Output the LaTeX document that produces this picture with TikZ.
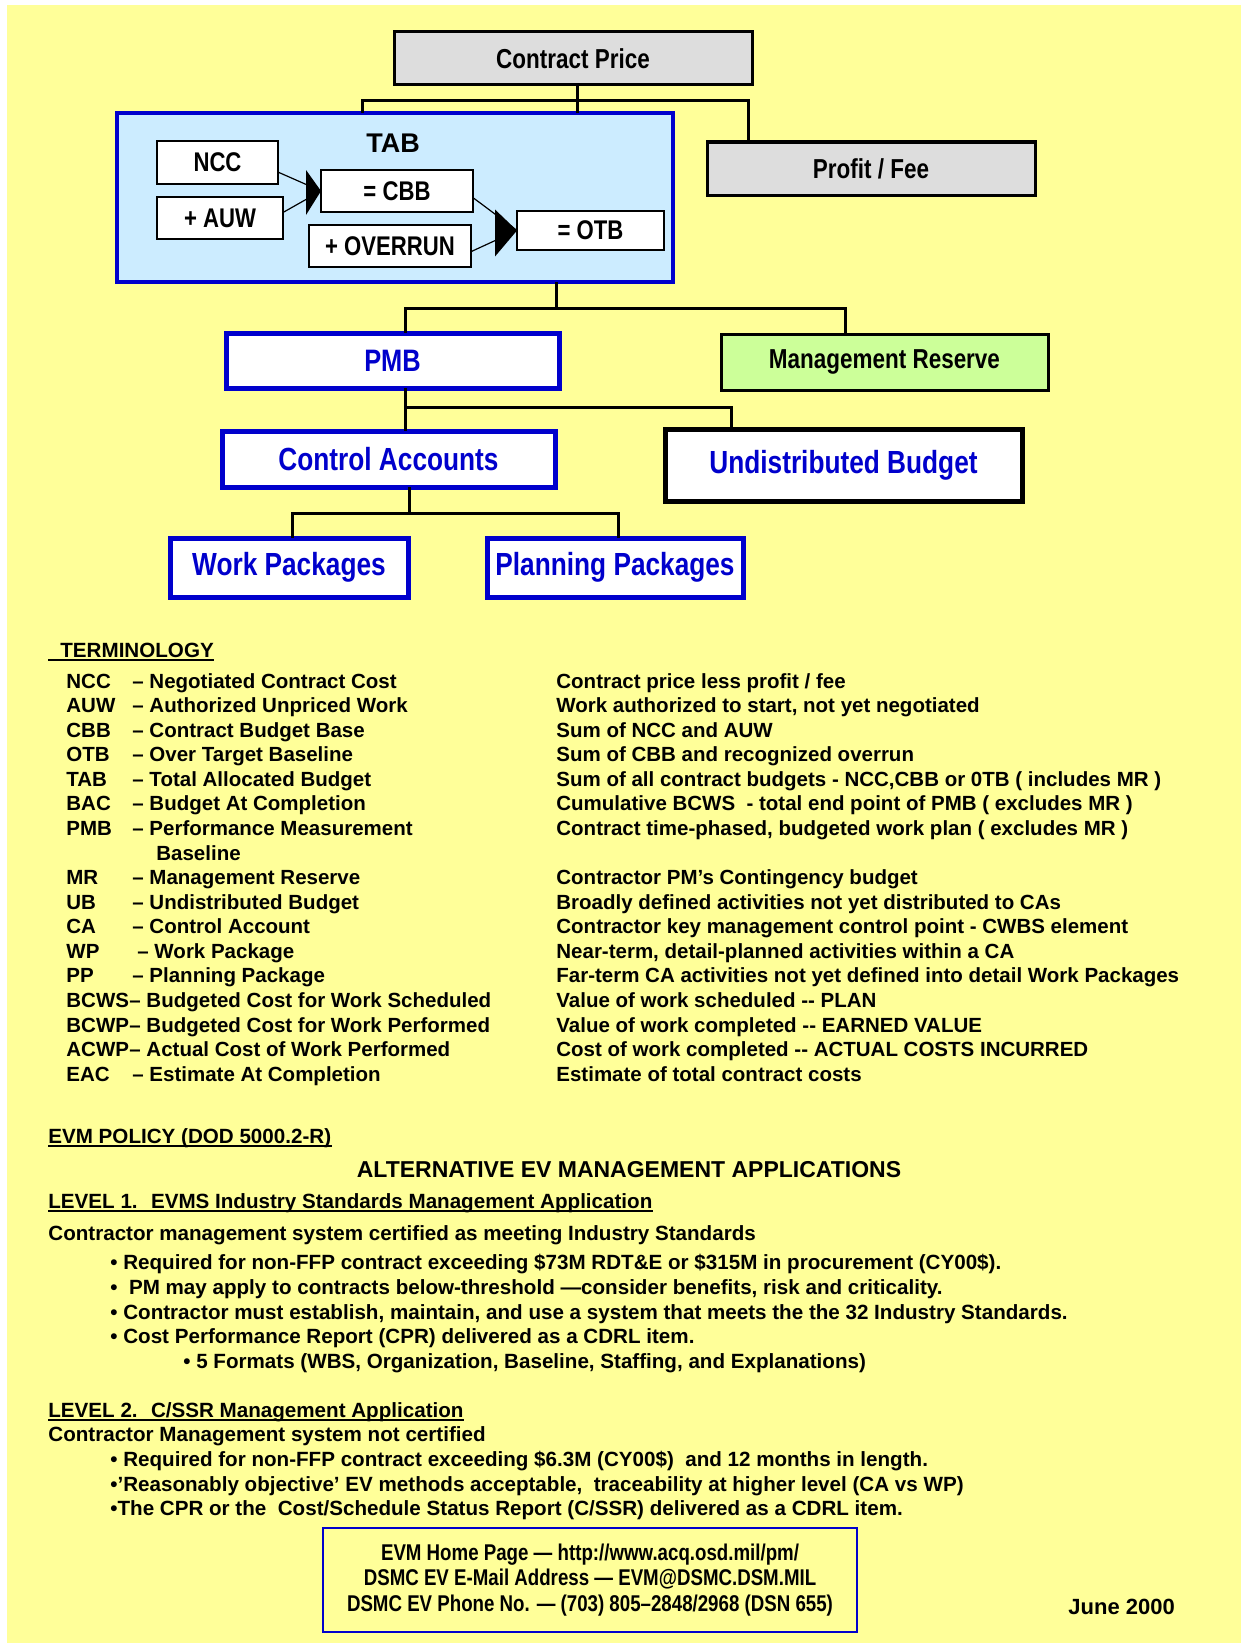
\documentclass[tikz,border=0pt]{standalone}
\usepackage{fontspec}
\setmainfont{Liberation Sans}
\newfontfamily\narrowbf{Liberation Sans Bold}[FakeStretch=0.82]
\definecolor{bgyellow}{HTML}{FFFF99}
\definecolor{boxgrey}{HTML}{DDDDDD}
\definecolor{tabblue}{HTML}{CCECFF}
\definecolor{mrgreen}{HTML}{CCFF99}
\definecolor{evblue}{HTML}{0000CC}
\begin{document}
\begin{tikzpicture}[x=0.5pt,y=-0.5pt,
    greybox/.style={draw, line width=1.5pt, fill=boxgrey, inner sep=0pt, outer sep=0pt,
        font=\narrowbf\fontsize{13.7}{15}\selectfont},
    smallbox/.style={draw, line width=1pt, fill=white, inner sep=0pt, outer sep=0pt,
        font=\narrowbf\fontsize{13.5}{15}\selectfont},
    bluebox/.style={draw=evblue, line width=2.5pt, fill=white, text=evblue, inner sep=0pt, outer sep=0pt,
        font=\narrowbf\fontsize{15.5}{17}\selectfont},
    conn/.style={line width=1.5pt},
    feed/.style={line width=0.6pt},
    term/.style={inner sep=0pt, anchor=base west, font=\bfseries\fontsize{10.25}{12}\selectfont},
    body/.style={inner sep=0pt, anchor=base west, font=\bfseries\fontsize{10.3}{12}\selectfont},
    uline/.style={line width=1pt}]

    \useasboundingbox (0,0) rectangle (1241,1643);
    \fill[white] (0,0) rectangle (1241,1643);
    \fill[bgyellow] (7,5) rectangle (1241,1643);

    % budget tree
    \node[greybox, minimum width=179pt, minimum height=26.5pt] (cp) at (573,58.5) {Contract Price};
    \node[greybox, minimum width=164pt, minimum height=26.5pt] (pf) at (871,168.5) {Profit / Fee};
    \node[draw=evblue, line width=2pt, fill=tabblue, minimum width=278pt, minimum height=84.5pt,
        inner sep=0pt, outer sep=0pt] (tab) at (395,197.5) {};
    \node[font=\bfseries\fontsize{13.5}{15}\selectfont, inner sep=0pt] (tablabel) at (393,143) {TAB};
    \node[smallbox, minimum width=60.5pt, minimum height=21.5pt] (ncc) at (217.5,162.5) {NCC};
    \node[smallbox, minimum width=63pt, minimum height=21pt] (auw) at (220,218) {+ AUW};
    \node[smallbox, minimum width=76pt, minimum height=21pt] (cbb) at (397,191) {= CBB};
    \node[smallbox, minimum width=81pt, minimum height=21pt] (ovr) at (390,246) {+ OVERRUN};
    \node[smallbox, minimum width=73.5pt, minimum height=19.5pt] (otb) at (590.5,230.5) {= OTB};

    \draw[feed] (ncc.-9) -- (cbb.west);
    \draw[feed] (auw.5) -- (cbb.west);
    \fill (cbb.west) -- ++(-15,-21) -- ++(0,45) -- cycle;
    \draw[feed] (cbb.-5) -- (otb.west);
    \draw[feed] (ovr.-4) -- (otb.west);
    \fill (otb.west) -- ++(-22,-21) -- ++(0,47) -- cycle;

    \node[bluebox, minimum width=166.5pt, minimum height=27.5pt] (pmb) at (392.5,360.5) {PMB};
    \node[draw, line width=1.5pt, fill=mrgreen, minimum width=163.5pt, minimum height=28pt,
        inner sep=0pt, outer sep=0pt, font=\narrowbf\fontsize{13.7}{15}\selectfont] (mr) at (884.5,362) {Management Reserve};
    \node[bluebox, minimum width=166.5pt, minimum height=28pt,
        font=\narrowbf\fontsize{16}{18}\selectfont] (ca) at (388.5,459) {Control Accounts};
    \node[bluebox, draw=black, minimum width=178.5pt, minimum height=36pt,
        font=\narrowbf\fontsize{16}{18}\selectfont] (ub) at (843.5,465) {Undistributed Budget};
    \node[bluebox, minimum width=119pt, minimum height=29.5pt,
        font=\narrowbf\fontsize{16}{18}\selectfont] (wp) at (289,567.5) {Work Packages};
    \node[bluebox, minimum width=128pt, minimum height=29.5pt,
        font=\narrowbf\fontsize{16}{18}\selectfont] (pp) at (615,567.5) {Planning Packages};

    \coordinate (cpB) at (577,101);
    \coordinate (cpL) at (362,101);
    \coordinate (cpR) at (748,101);
    \draw[conn] (cpB |- cp.south) -- (cpB |- tab.north);
    \draw[conn] (cpL |- tab.north) -- (cpL) -- (cpR) -- (cpR |- pf.north);

    \coordinate (tabB) at (556,308);
    \coordinate (tabL) at (405,308);
    \coordinate (tabR) at (845,308);
    \draw[conn] (tabB |- tab.south) -- (tabB);
    \draw[conn] (tabL |- pmb.north) -- (tabL) -- (tabR) -- (tabR |- mr.north);

    \coordinate (pmbL) at (405,407);
    \coordinate (pmbR) at (731,407);
    \draw[conn] (pmbL |- pmb.south) -- (pmbL |- ca.north);
    \draw[conn] (pmbL) -- (pmbR) -- (pmbR |- ub.north);

    \coordinate (caB) at (409,513);
    \coordinate (caL) at (292,513);
    \coordinate (caR) at (618,513);
    \draw[conn] (caB |- ca.south) -- (caB);
    \draw[conn] (caL |- wp.north) -- (caL) -- (caR) -- (caR |- pp.north);

    % terminology
    \node[body] (terms) at (60,657) {TERMINOLOGY};
    \draw[uline] ([xshift=-6pt,yshift=-1.5pt]terms.base west) -- ([yshift=-1.5pt]terms.base east);

    \node[term] (ncc-a) at (66,688) {NCC};
    \node[term] (ncc-b) at (132,688) {– Negotiated Contract Cost};
    \node[term] (ncc-c) at (556,688) {Contract price less profit / fee};
    \node[term] (auw-a) at (66,712) {AUW};
    \node[term] (auw-b) at (132,712) {– Authorized Unpriced Work};
    \node[term] (auw-c) at (556,712) {Work authorized to start, not yet negotiated};
    \node[term] (cbb-a) at (66,737) {CBB};
    \node[term] (cbb-b) at (132,737) {– Contract Budget Base};
    \node[term] (cbb-c) at (556,737) {Sum of NCC and AUW};
    \node[term] (otb-a) at (66,761) {OTB};
    \node[term] (otb-b) at (132,761) {– Over Target Baseline};
    \node[term] (otb-c) at (556,761) {Sum of CBB and recognized overrun};
    \node[term] (tab-a) at (66,786) {TAB};
    \node[term] (tab-b) at (132,786) {– Total Allocated Budget};
    \node[term] (tab-c) at (556,786) {Sum of all contract budgets - NCC,CBB or 0TB ( includes MR )};
    \node[term] (bac-a) at (66,810) {BAC};
    \node[term] (bac-b) at (132,810) {– Budget At Completion};
    \node[term] (bac-c) at (556,810) {Cumulative BCWS \ - total end point of PMB ( excludes MR )};
    \node[term] (pmb-a) at (66,835) {PMB};
    \node[term] (pmb-b) at (132,835) {– Performance Measurement};
    \node[term] (pmb-c) at (556,835) {Contract time-phased, budgeted work plan ( excludes MR )};
    \node[term] (pmb-d) at (156,860) {Baseline};
    \node[term] (mr-a) at (66,884) {MR};
    \node[term] (mr-b) at (132,884) {– Management Reserve};
    \node[term] (mr-c) at (556,884) {Contractor PM’s Contingency budget};
    \node[term] (ub-a) at (66,909) {UB};
    \node[term] (ub-b) at (132,909) {– Undistributed Budget};
    \node[term] (ub-c) at (556,909) {Broadly defined activities not yet distributed to CAs};
    \node[term] (ca-a) at (66,933) {CA};
    \node[term] (ca-b) at (132,933) {– Control Account};
    \node[term] (ca-c) at (556,933) {Contractor key management control point - CWBS element};
    \node[term] (wp-a) at (66,958) {WP};
    \node[term] (wp-b) at (137,958) {– Work Package};
    \node[term] (wp-c) at (556,958) {Near-term, detail-planned activities within a CA};
    \node[term] (pp-a) at (66,982) {PP};
    \node[term] (pp-b) at (132,982) {– Planning Package};
    \node[term] (pp-c) at (556,982) {Far-term CA activities not yet defined into detail Work Packages};
    \node[term] (bcws-a) at (66,1007) {BCWS};
    \node[term] (bcws-b) at (129,1007) {– Budgeted Cost for Work Scheduled};
    \node[term] (bcws-c) at (556,1007) {Value of work scheduled -{}- PLAN};
    \node[term] (bcwp-a) at (66,1032) {BCWP};
    \node[term] (bcwp-b) at (129,1032) {– Budgeted Cost for Work Performed};
    \node[term] (bcwp-c) at (556,1032) {Value of work completed -{}- EARNED VALUE};
    \node[term] (acwp-a) at (66,1056) {ACWP};
    \node[term] (acwp-b) at (129,1056) {– Actual Cost of Work Performed};
    \node[term] (acwp-c) at (556,1056) {Cost of work completed -{}- ACTUAL COSTS INCURRED};
    \node[term] (eac-a) at (66,1081) {EAC};
    \node[term] (eac-b) at (132,1081) {– Estimate At Completion};
    \node[term] (eac-c) at (556,1081) {Estimate of total contract costs};

    % policy
    \node[body] (policy) at (48,1143) {EVM POLICY (DOD 5000.2-R)};
    \draw[uline] ([yshift=-1.5pt]policy.base west) -- ([yshift=-1.5pt]policy.base east);
    \node[body, anchor=base, font=\bfseries\fontsize{11.5}{13}\selectfont] (alt) at (629,1177)
        {ALTERNATIVE EV MANAGEMENT APPLICATIONS};
    \node[body] (lvl1) at (48,1208) {LEVEL 1. \ EVMS Industry Standards Management Application};
    \draw[uline] ([yshift=-1.5pt]lvl1.base west) -- ([yshift=-1.5pt]lvl1.base east);
    \node[body] (lvl1-a) at (48,1240) {Contractor management system certified as meeting Industry Standards};
    \node[body] (lvl1-b) at (110,1269) {• Required for non-FFP contract exceeding \$73M RDT\&E or \$315M in procurement (CY00\$).};
    \node[body] (lvl1-c) at (110,1294) {• \ PM may apply to contracts below-threshold —consider benefits, risk and criticality.};
    \node[body] (lvl1-d) at (110,1319) {• Contractor must establish, maintain, and use a system that meets the the 32 Industry Standards.};
    \node[body] (lvl1-e) at (110,1343) {• Cost Performance Report (CPR) delivered as a CDRL item.};
    \node[body] (lvl1-f) at (183,1368) {• 5 Formats (WBS, Organization, Baseline, Staffing, and Explanations)};

    \node[body] (lvl2) at (48,1417) {LEVEL 2. \ C/SSR Management Application};
    \draw[uline] ([yshift=-1.5pt]lvl2.base west) -- ([yshift=-1.5pt]lvl2.base east);
    \node[body] (lvl2-a) at (48,1441) {Contractor Management system not certified};
    \node[body] (lvl2-b) at (110,1466) {• Required for non-FFP contract exceeding \$6.3M (CY00\$) \ and 12 months in length.};
    \node[body] (lvl2-c) at (110,1491) {•’Reasonably objective’ EV methods acceptable, \ traceability at higher level (CA vs WP)};
    \node[body] (lvl2-d) at (110,1515) {•The CPR or the \ Cost/Schedule Status Report (C/SSR) delivered as a CDRL item.};

    % contacts
    \node[draw=evblue, line width=1pt, fill=bgyellow, minimum width=267pt, minimum height=52pt,
        inner sep=0pt, align=center, font=\narrowbf\fontsize{11.4}{12.6}\selectfont] (contact) at (590,1580)
        {EVM Home Page — http://www.acq.osd.mil/pm/\\
         DSMC EV E-Mail Address — EVM@DSMC.DSM.MIL\\
         DSMC EV Phone No. — (703) 805–2848/2968 (DSN 655)};
    \node[body, font=\bfseries\fontsize{11}{13}\selectfont] (date) at (1068,1614) {June 2000};
\end{tikzpicture}
\end{document}
